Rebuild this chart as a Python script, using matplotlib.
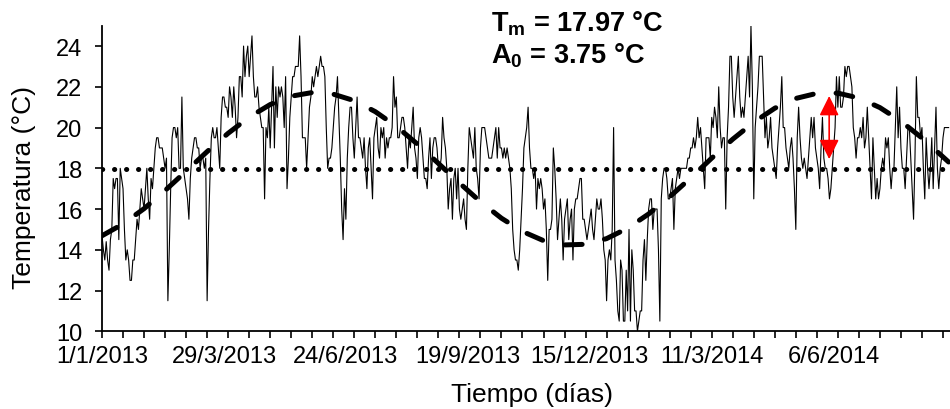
import numpy as np
import matplotlib
matplotlib.use("Agg")
import matplotlib.pyplot as plt

plt.rcParams['font.family'] = 'Liberation Sans'
plt.rcParams['mathtext.fontset'] = 'custom'
plt.rcParams['mathtext.rm'] = 'Liberation Sans'
plt.rcParams['mathtext.bf'] = 'Liberation Sans:bold'

# daily temperatures (degC), starting 1/1/2013
temp_jan_mar13 = [14.7, 14.0, 13.5, 14.4, 13.5, 13.0, 14.5, 15.0, 17.5, 17.0,
                  17.5, 17.5, 14.5, 18.0, 17.5, 17.0, 15.0, 13.5, 14.0, 13.5,
                  12.5, 12.5, 13.5, 13.5, 14.5, 15.5, 15.0, 16.0, 17.0, 16.5,
                  16.0, 17.0, 18.0, 16.5, 15.5, 17.5, 17.0, 18.0, 19.0, 19.5,
                  19.5, 19.0, 19.0, 19.0, 18.5, 18.0, 18.5, 11.5, 14.0, 17.0,
                  19.5, 20.0, 20.0, 19.5, 20.0, 18.0, 18.0, 21.5, 18.0, 17.5,
                  17.0, 16.5, 15.5, 17.5, 18.5, 19.0, 19.5, 19.5, 19.0, 19.0,
                  18.0, 18.5]
temp_mar_may13 = [18.5, 18.0, 18.5, 11.5, 15.0, 17.5, 19.5, 20.0, 19.5, 19.5,
                  20.0, 19.0, 18.0, 20.5, 21.5, 21.5, 21.0, 21.0, 20.5, 22.0,
                  21.5, 20.5, 22.0, 21.0, 19.5, 20.5, 22.5, 22.5, 21.5, 24.0,
                  22.5, 23.5, 24.0, 22.5, 23.5, 24.5, 22.5, 21.5, 21.5, 22.0,
                  21.0, 20.5, 20.0, 20.0, 16.5, 20.0, 19.5, 21.0, 19.0, 21.0,
                  23.0, 19.0, 22.0, 20.5, 22.0, 21.5, 22.0, 21.5, 20.0, 22.5,
                  17.0, 18.5, 20.5, 21.5, 22.5, 22.5, 23.0, 23.0, 23.0, 24.5,
                  22.5, 19.5, 19.5, 19.5, 18.0, 19.5, 21.0]
temp_may_jul13 = [21.5, 22.5, 22.0, 22.5, 23.0, 22.5, 23.0, 23.5, 23.0, 23.0,
                  22.5, 20.0, 18.0, 18.5, 18.5, 19.0, 20.0, 21.0, 21.5, 22.5,
                  20.5, 18.5, 16.0, 14.5, 17.0, 15.5, 18.5, 20.0, 21.0, 21.0,
                  19.5, 18.5, 20.0, 21.5, 19.5, 19.5, 19.0, 18.5, 19.5, 18.0,
                  17.0, 19.0, 19.5, 18.0, 16.5, 19.5, 20.0, 20.5, 19.0, 18.5,
                  20.0, 19.5, 20.0, 18.5, 19.5, 19.0, 19.5, 19.5, 20.0, 22.5,
                  21.0, 21.5, 19.5, 19.5]
temp_aug_nov13 = [20.0, 20.5, 20.5, 20.0, 19.0, 18.0, 19.5, 19.0, 20.0, 21.0,
                  19.0, 18.5, 17.5, 19.5, 20.0, 19.5, 18.5, 17.5, 17.5, 17.0,
                  18.5, 19.5, 17.5, 19.0, 19.5, 19.5, 19.0, 18.0, 18.0, 18.5,
                  20.5, 19.5, 19.0, 18.0, 16.0, 17.0, 17.5, 15.5, 17.5, 18.0,
                  16.5, 18.0, 16.0, 15.5, 16.0, 16.5, 15.5, 15.0, 18.0, 20.0,
                  19.5, 19.0, 18.5, 20.0, 18.0, 17.5, 16.5, 19.0, 20.0, 20.0,
                  20.0, 19.5, 19.0, 18.5, 18.5, 18.5, 19.0, 19.5, 20.0, 18.5,
                  20.0, 19.0, 19.0, 18.5, 19.0, 18.5, 19.0, 18.5, 18.0, 17.0,
                  15.0, 14.0, 13.5, 13.5, 13.0, 14.0, 15.5, 17.0, 19.0, 19.5,
                  20.0, 21.0, 19.0, 18.0, 18.0, 17.5, 18.0, 16.0, 17.5, 17.0,
                  17.5, 17.0, 16.0, 16.5, 15.0, 12.5, 15.0]
temp_nov13_mar14 = [15.0, 15.5, 19.0, 18.0, 16.5, 14.5, 15.5, 16.5, 15.5, 13.5,
                    15.5, 16.0, 16.5, 14.5, 15.5, 16.0, 13.5, 16.0, 16.5, 16.5,
                    17.0, 17.5, 17.5, 15.5, 15.5, 15.0, 14.5, 15.0, 15.5, 16.0,
                    15.0, 14.5, 15.5, 16.5, 16.0, 16.0, 16.5, 15.5, 14.0, 13.5,
                    11.5, 13.5, 14.0, 13.5, 15.0, 20.0, 13.5, 12.5, 11.0, 10.5,
                    13.5, 13.0, 10.5, 10.5, 13.0, 11.0, 15.0, 10.5, 14.0, 13.0,
                    11.0, 11.0, 10.0, 10.5, 11.0, 11.0, 13.5, 14.5, 12.5, 14.5,
                    16.0, 16.5, 16.5, 15.0, 16.0, 16.0, 16.0, 14.0, 10.5, 16.5,
                    17.5, 18.0, 18.0, 17.5, 16.5, 16.5, 17.0, 17.5, 15.0, 17.0,
                    17.5, 18.0, 17.5, 18.0, 18.0, 18.0, 18.0, 18.0, 18.5, 18.5,
                    19.0, 19.0, 19.5, 19.0, 19.5, 20.5, 19.5]
temp_mar_jun14 = [20.0, 19.0, 18.0, 17.0, 19.5, 19.5, 19.5, 18.5, 20.5, 20.0,
                  21.0, 20.5, 19.5, 22.0, 20.0, 19.0, 19.5, 19.5, 16.0, 19.5,
                  21.0, 23.5, 23.5, 21.5, 20.5, 21.5, 22.5, 23.5, 21.5, 20.5,
                  21.0, 20.5, 21.5, 22.5, 23.5, 21.5, 25.0, 22.0, 16.5, 20.0,
                  21.0, 22.0, 23.5, 23.5, 23.5, 21.5, 19.5, 20.5, 19.0, 19.5,
                  20.5, 19.0, 18.5, 18.0, 17.5, 19.0, 20.0, 21.0, 22.5, 20.0,
                  20.0, 19.0, 18.5, 18.0, 19.0, 19.5, 18.5, 17.0, 15.0, 19.5,
                  21.0, 19.5, 18.5, 18.0, 18.5, 18.0, 17.5, 18.5, 19.5, 20.5,
                  19.5, 20.5, 19.0, 18.5, 18.0, 17.0, 19.0, 20.5, 18.5, 18.0,
                  18.0, 17.5, 16.5, 17.0, 18.0, 19.0, 20.0, 22.5, 21.0, 22.5,
                  21.0, 21.0, 21.5, 23.0, 22.5, 23.0, 23.0]
temp_jun_aug14 = [22.5, 22.0, 20.0, 19.5, 18.5, 19.5, 19.5, 20.0, 19.5, 20.5,
                  19.0, 19.5, 21.0, 19.5, 18.0, 16.5, 19.5, 18.0, 16.5, 17.5,
                  16.5, 17.0, 18.0, 18.5, 18.0, 19.5, 19.0, 19.5, 18.0, 17.0,
                  18.0, 18.0, 20.0, 22.0, 19.5, 21.0, 19.0, 18.0, 18.0, 17.0,
                  18.5, 20.0, 20.0, 18.5, 17.0, 15.5, 18.5, 22.5, 20.5, 20.5,
                  19.5, 20.0, 18.0, 16.5, 19.5, 18.0, 17.0, 18.0, 19.5, 17.0,
                  19.0, 21.0, 18.0, 17.0, 18.0, 18.5, 19.5, 20.0, 20.0, 20.0,
                  20.0]

# sinusoidal fit (dashed), read every 15 days
fit_days = [0, 15, 30, 45, 60, 75, 90, 105, 120, 135, 150, 165, 180, 195,
            210, 225, 240, 255, 270, 285, 300, 315, 330, 345, 360, 375, 390,
            405, 420, 435, 450, 465, 480, 495, 510, 525, 540, 555, 570, 585,
            600, 604]
fit_temps = [14.69, 15.27, 16.02, 16.91, 17.86, 18.82, 19.72, 20.51, 21.13,
             21.54, 21.72, 21.64, 21.32, 20.78, 20.06, 19.19, 18.24, 17.28,
             16.36, 15.55, 14.90, 14.45, 14.24, 14.27, 14.55, 15.06, 15.76,
             16.60, 17.53, 18.50, 19.43, 20.26, 20.95, 21.43, 21.68, 21.69,
             21.45, 20.98, 20.31, 19.49, 18.56, 18.31]

t_mean = 17.97
a_0 = 3.75

tick_days = [0, 87, 174, 261, 348, 435, 522]
tick_labels = ["1/1/2013", "29/3/2013", "24/6/2013", "19/9/2013",
               "15/12/2013", "11/3/2014", "6/6/2014"]

temps = np.array(temp_jan_mar13 + temp_mar_may13 + temp_may_jul13 +
                 temp_aug_nov13 + temp_nov13_mar14 + temp_mar_jun14 +
                 temp_jun_aug14)
days = np.arange(len(temps))

fig = plt.figure(figsize=(9.5, 4.1), dpi=100)
ax = fig.add_axes([102/950, 1 - 332.3/410, 848/950, (332.3 - 26.7)/410])

ax.plot(days, temps, color='black', lw=0.8, zorder=2)
# dotted mean line
ax.axhline(t_mean, color='black', lw=3.6, linestyle=(0, (0.05, 2.35)),
           dash_capstyle='round', zorder=3)
ax.plot(fit_days, fit_temps, color='black', lw=3.6, linestyle=(0, (3.4, 4.6)),
        dash_capstyle='round', zorder=4)

ax.annotate('', xy=(518.8, 21.55), xytext=(518.8, 18.45),
            arrowprops=dict(arrowstyle='<|-|>,head_length=0.6,head_width=0.3',
                            mutation_scale=20, color='red', lw=1.2,
                            shrinkA=0, shrinkB=0), zorder=5)

ax.set_xlim(0, 605)
ax.set_ylim(10, 25)
ax.set_yticks(np.arange(10, 25, 2))
ax.set_xticks(tick_days)
ax.set_xticklabels(tick_labels)
ax.set_xticks(np.arange(0, 605, 15), minor=True)
ax.xaxis.remove_overlapping_locs = False
ax.tick_params(axis='x', which='major', length=0, pad=10, labelsize=17)
ax.tick_params(axis='x', which='minor', length=5, width=1.2, direction='out')
ax.tick_params(axis='y', length=5, width=1.2, pad=9, labelsize=17)

for s in ['top', 'right']:
    ax.spines[s].set_visible(False)
for s in ['left', 'bottom']:
    ax.spines[s].set_linewidth(1.3)

fig.text(24/950, 1 - 187.5/410, 'Temperatura (°C)', rotation=90,
         ha='center', va='center', fontsize=19)
fig.text(531.7/950, 1 - 402/410, 'Tiempo (días)', ha='center',
         va='baseline', fontsize=19)

fig.text(491/950, 1 - 31.7/410, r'T$_\mathbf{m}$ = %.2f °C' % t_mean,
         fontsize=19.5, fontweight='bold', ha='left', va='baseline')
fig.text(491/950, 1 - 64/410, r'A$_\mathbf{0}$ = %.2f °C' % a_0,
         fontsize=19.5, fontweight='bold', ha='left', va='baseline')

fig.savefig("out.png", dpi=100)
